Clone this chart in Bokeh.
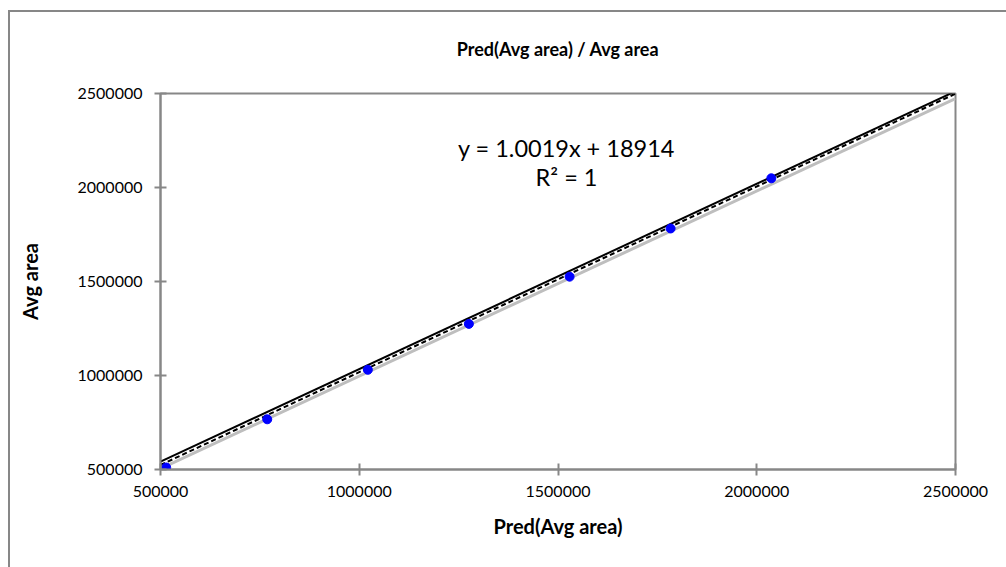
from bokeh.plotting import figure
from bokeh.models import Range1d, FixedTicker, Label
from bokeh.embed import file_html
from bokeh.resources import INLINE

# data
pred_avg_area = [514300, 768500, 1021600, 1275800, 1529200, 1783300, 2036700]
avg_area = [510700, 767100, 1030400, 1274600, 1525600, 1782000, 2049000]

# lines as drawn in the reference (end points)
upper_line_x = [500000, 2500000]
upper_line_y = [542000, 2512000]
trend_line_x = [500000, 2500000]
trend_line_y = [524000, 2499000]
lower_line_x = [500000, 2500000]
lower_line_y = [505000, 2473000]

tick_values = [500000, 1000000, 1500000, 2000000, 2500000]
tick_labels = ["500000", "1000000", "1500000", "2000000", "2500000"]

title_text = "Pred(Avg area) / Avg area"
x_title = "Pred(Avg area)"
y_title = "Avg area"
equation_text = "y = 1.0019x + 18914"
r2_text = "R² = 1"

FONT = "Lato"
GRAY = "#878787"

p = figure(width=1006, height=567, output_backend="svg", toolbar_location=None,
           x_range=Range1d(500000, 2500000), y_range=Range1d(500000, 2500000),
           min_border_left=160, min_border_right=51, min_border_top=93, min_border_bottom=98)
# chart-area border (left and top edges) drawn as the element's background
p.styles = {"background": ("linear-gradient(#878787, #878787) 8px 10px / 2px 100% no-repeat, "
                           "linear-gradient(#878787, #878787) 8px 10px / 100% 2px no-repeat, #ffffff")}
p.border_fill_alpha = 0
p.background_fill_color = "white"
p.outline_line_color = GRAY
p.outline_line_width = 2
p.xgrid.visible = False
p.ygrid.visible = False

p.title.text = title_text
p.title.align = "center"
p.title.vertical_align = "middle"
p.title.text_font = FONT
p.title.text_font_size = "18px"
p.title.text_font_style = "bold"
p.title.text_color = "black"
p.title.standoff = 66

for ax in (p.xaxis[0], p.yaxis[0]):
    ax.ticker = FixedTicker(ticks=tick_values)
    ax.major_label_overrides = {v: l for v, l in zip(tick_values, tick_labels)}
    ax.axis_line_color = GRAY
    ax.axis_line_width = 2
    ax.major_tick_line_color = GRAY
    ax.major_tick_line_width = 2
    ax.major_tick_in = 6
    ax.major_tick_out = 6
    ax.minor_tick_line_color = None
    ax.major_label_text_font = FONT
    ax.major_label_text_font_size = "16px"
    ax.major_label_text_color = "black"
    ax.axis_label_text_font = FONT
    ax.axis_label_text_font_size = "20px"
    ax.axis_label_text_font_style = "bold"
    ax.axis_label_text_color = "black"

p.xaxis[0].axis_label = x_title
p.yaxis[0].axis_label = y_title
p.xaxis[0].major_label_standoff = 10
p.yaxis[0].major_label_standoff = 12
p.xaxis[0].axis_label_standoff = 14
p.yaxis[0].axis_label_standoff = 33

p.line(lower_line_x, lower_line_y, line_color="#BEBEBE", line_width=3)
p.line(upper_line_x, upper_line_y, line_color="black", line_width=2)
p.line(trend_line_x, trend_line_y, line_color="black", line_width=2, line_dash="5 3")
p.scatter(pred_avg_area, avg_area, size=9, fill_color="#0000FF", line_color="#0000FF")

p.add_layout(Label(x=406, y=322, x_units="screen", y_units="screen", text=equation_text,
                   text_font=FONT, text_font_size="23.5px", text_color="black",
                   text_align="center", text_baseline="middle"))
p.add_layout(Label(x=406, y=293, x_units="screen", y_units="screen", text=r2_text,
                   text_font=FONT, text_font_size="23.5px", text_color="black",
                   text_align="center", text_baseline="middle"))

open("out.html", "w").write(file_html(p, INLINE))
